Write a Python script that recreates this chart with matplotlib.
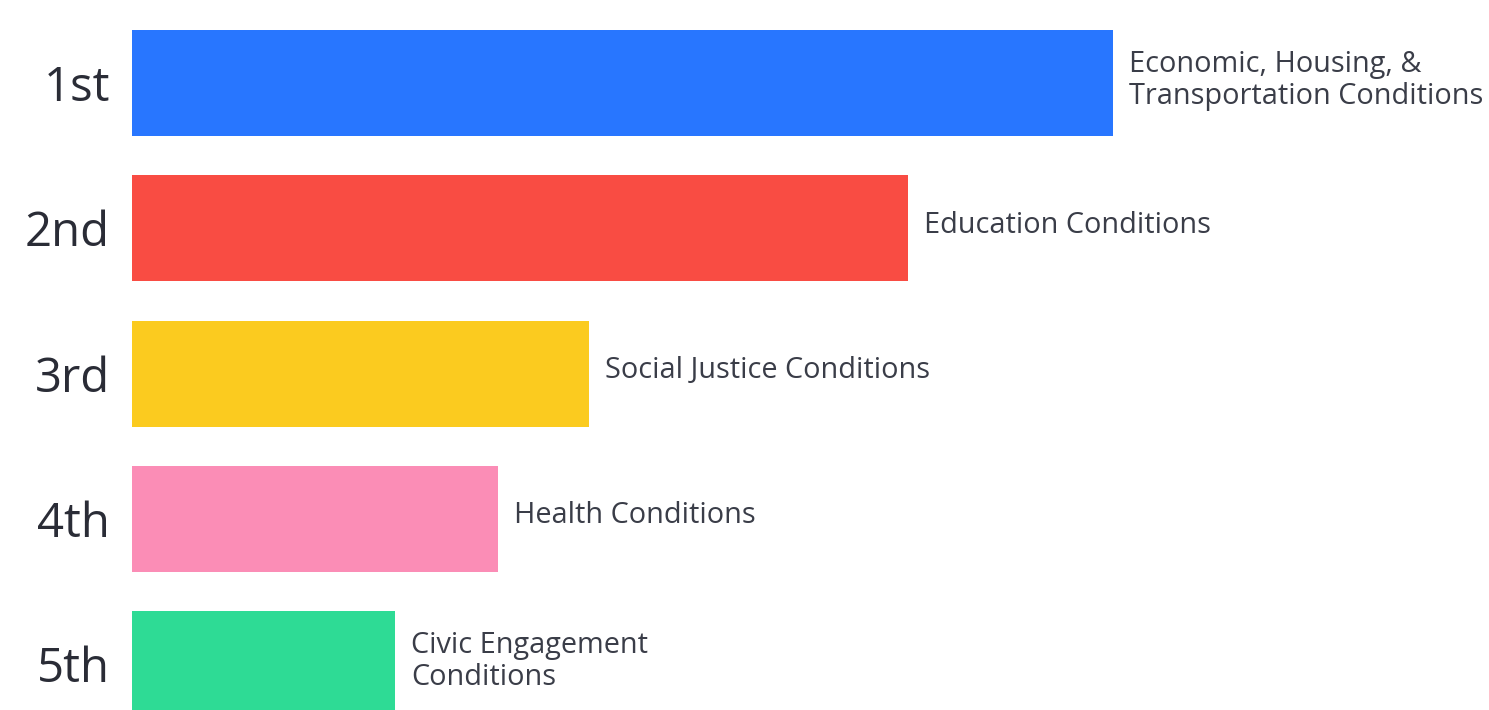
import matplotlib.pyplot as plt

ranks = ["1st", "2nd", "3rd", "4th", "5th"]
categories = [
    "Economic, Housing, &\nTransportation Conditions",
    "Education Conditions",
    "Social Justice Conditions",
    "Health Conditions",
    "Civic Engagement\nConditions",
]
scores = [981, 776, 457, 366, 263]
colors = ["#2876FF", "#F94C43", "#FBCB1F", "#FB8DB6", "#2EDB95"]

W, H = 1489, 710
fig = plt.figure(figsize=(W / 100, H / 100), dpi=100)
left = 132
ax = fig.add_axes([left / W, 0, 1 - left / W, 1])

pitch = 145.25
y = list(range(len(ranks)))
ax.barh(y, scores, height=106 / pitch, color=colors)

for yi, s, label in zip(y, scores, categories):
    ax.annotate(label, (s, yi), xytext=(11.5, 2), textcoords="offset points",
                va="center", ha="left", fontsize=20.8, family="Open Sans",
                color="#3a3d48", linespacing=1.15)

ax.set_xlim(0, W - left)
ax.set_ylim((H - 83) / pitch, -83 / pitch)
ax.set_yticks(y)
ax.set_yticklabels(ranks, fontsize=34, family="Open Sans", fontweight="medium",
                   color="#2a2c36")
ax.tick_params(axis="y", length=0, pad=16)
ax.set_xticks([])
for spine in ax.spines.values():
    spine.set_visible(False)

fig.savefig("out.png", dpi=100)
